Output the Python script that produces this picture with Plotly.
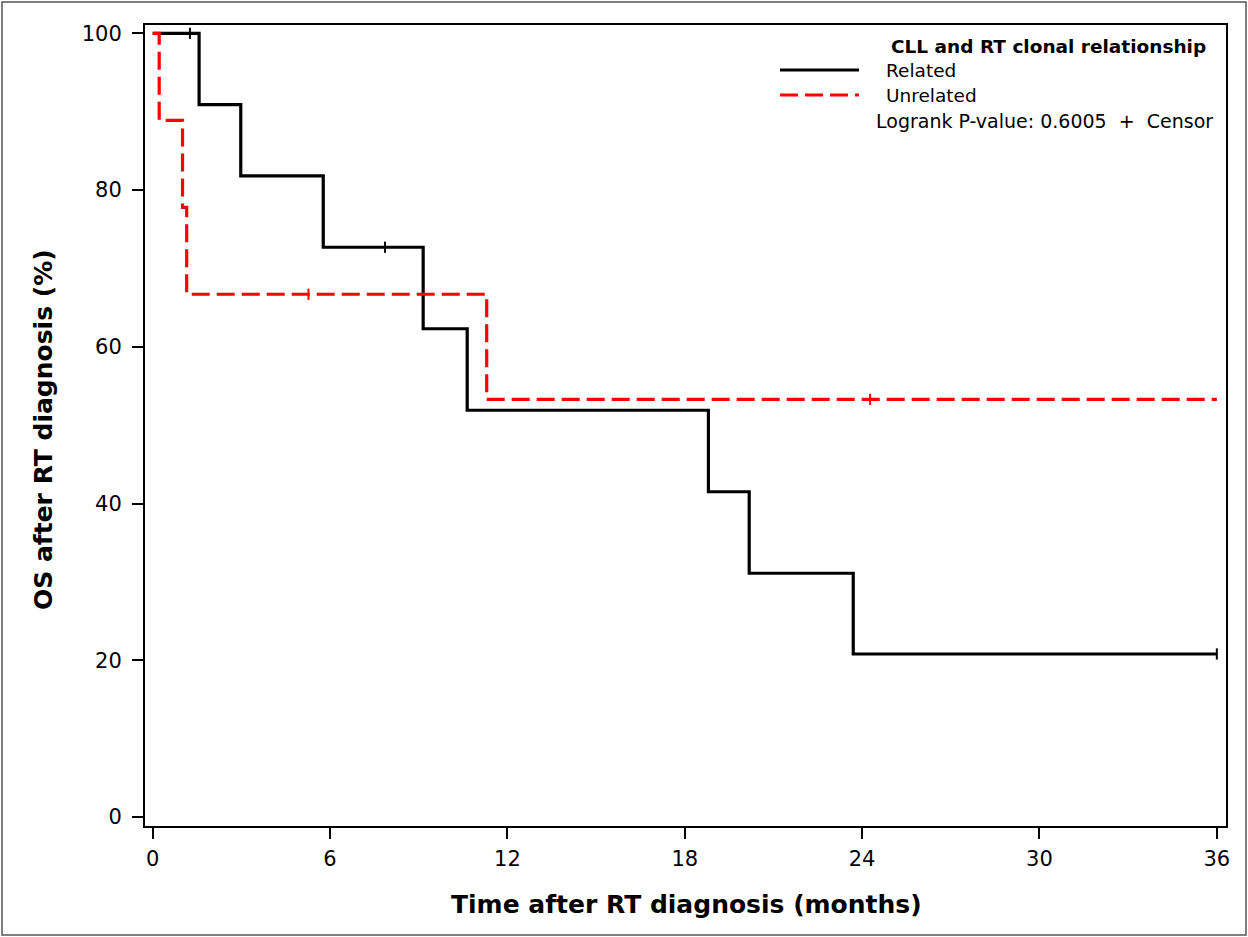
import plotly.graph_objects as go

# ---- data ----
related_time = [0, 1.57, 2.98, 5.77, 9.15, 10.64, 18.80, 20.18, 23.70, 36.0]
related_surv = [100, 90.9, 81.8, 72.7, 62.3, 51.9, 41.5, 31.1, 20.8, 20.8]
related_censor = [1.26, 7.86, 36.0]

unrelated_time = [0, 0.22, 1.01, 1.15, 11.30, 36.0]
unrelated_surv = [100, 88.9, 77.8, 66.7, 53.3, 53.3]
unrelated_censor = [5.27, 24.27]

x_ticks = [0, 6, 12, 18, 24, 30, 36]
y_ticks = [0, 20, 40, 60, 80, 100]

legend_title = "CLL and RT clonal relationship"
series_names = ["Related", "Unrelated"]
pvalue_text = "Logrank P-value: 0.6005  +  Censor"


def step_at(times, surv, t):
    val = surv[0]
    for ti, si in zip(times, surv):
        if ti <= t:
            val = si
    return val


W, H = 1248, 937
L, R, T, B = 145, 22, 25, 111
PW, PH = W - L - R, H - T - B


def px(x):
    return (x - L) / PW


def py(y):
    return (H - B - y) / PH


FONT = "DejaVu Sans"

fig = go.Figure()

fig.add_trace(go.Scatter(x=related_time, y=related_surv, mode="lines", line_shape="hv",
                         line=dict(color="black", width=3.2), showlegend=False))
fig.add_trace(go.Scatter(x=unrelated_time, y=unrelated_surv, mode="lines", line_shape="hv",
                         line=dict(color="#ff0000", width=3.2, dash="18px,7px"), showlegend=False))
fig.add_trace(go.Scatter(x=related_censor,
                         y=[step_at(related_time, related_surv, t) for t in related_censor],
                         mode="markers",
                         marker=dict(symbol="line-ns", size=8, line=dict(color="black", width=2)),
                         showlegend=False))
fig.add_trace(go.Scatter(x=unrelated_censor,
                         y=[step_at(unrelated_time, unrelated_surv, t) for t in unrelated_censor],
                         mode="markers",
                         marker=dict(symbol="line-ns", size=8, line=dict(color="#ff0000", width=2)),
                         showlegend=False))

axis_common = dict(showline=True, linecolor="black", linewidth=2, mirror=True,
                   ticks="outside", ticklen=11, tickwidth=1.5, tickcolor="black",
                   showgrid=False, zeroline=False,
                   tickfont=dict(family=FONT, size=21, color="black"))

fig.update_xaxes(range=[-0.26, 36.31], tickvals=x_ticks, ticklabelstandoff=2, **axis_common)
fig.update_yaxes(range=[-1.15, 101.06], tickvals=y_ticks, ticklabelstandoff=6, **axis_common)

annotations = [
    dict(text="<b>Time after RT diagnosis (months)</b>", x=px(686), y=py(904),
         xanchor="center", yanchor="middle", font=dict(family=FONT, size=25, color="black")),
    dict(text="<b>OS after RT diagnosis (%)</b>", x=px(43), y=py(430), textangle=-90,
         xanchor="center", yanchor="middle", font=dict(family=FONT, size=25, color="black")),
    dict(text="<b>" + legend_title + "</b>", x=px(1048), y=py(47),
         xanchor="center", yanchor="middle", font=dict(family=FONT, size=18.5, color="black")),
    dict(text=series_names[0], x=px(884), y=py(70),
         xanchor="left", yanchor="middle", font=dict(family=FONT, size=18.5, color="black")),
    dict(text=series_names[1], x=px(884), y=py(95),
         xanchor="left", yanchor="middle", font=dict(family=FONT, size=18.5, color="black")),
    dict(text=pvalue_text, x=px(874), y=py(121),
         xanchor="left", yanchor="middle", font=dict(family=FONT, size=19, color="black")),
]
for a in annotations:
    a.update(xref="paper", yref="paper", showarrow=False)

shapes = [
    dict(type="line", xref="paper", yref="paper", x0=px(780), x1=px(859), y0=py(70), y1=py(70),
         line=dict(color="black", width=3)),
    dict(type="line", xref="paper", yref="paper", x0=px(780), x1=px(859), y0=py(95), y1=py(95),
         line=dict(color="#ff0000", width=3, dash="18px,7px")),
    dict(type="rect", xref="paper", yref="paper", x0=px(2), x1=px(1246), y0=py(935), y1=py(2),
         line=dict(color="#555555", width=1.5)),
]

fig.update_layout(width=W, height=H, margin=dict(l=L, r=R, t=T, b=B),
                  plot_bgcolor="white", paper_bgcolor="white",
                  annotations=annotations, shapes=shapes,
                  font=dict(family=FONT, color="black"))

fig.write_html("out.html", config={"displayModeBar": False},
               post_script="document.body.style.margin='0';document.body.style.overflow='hidden';")
